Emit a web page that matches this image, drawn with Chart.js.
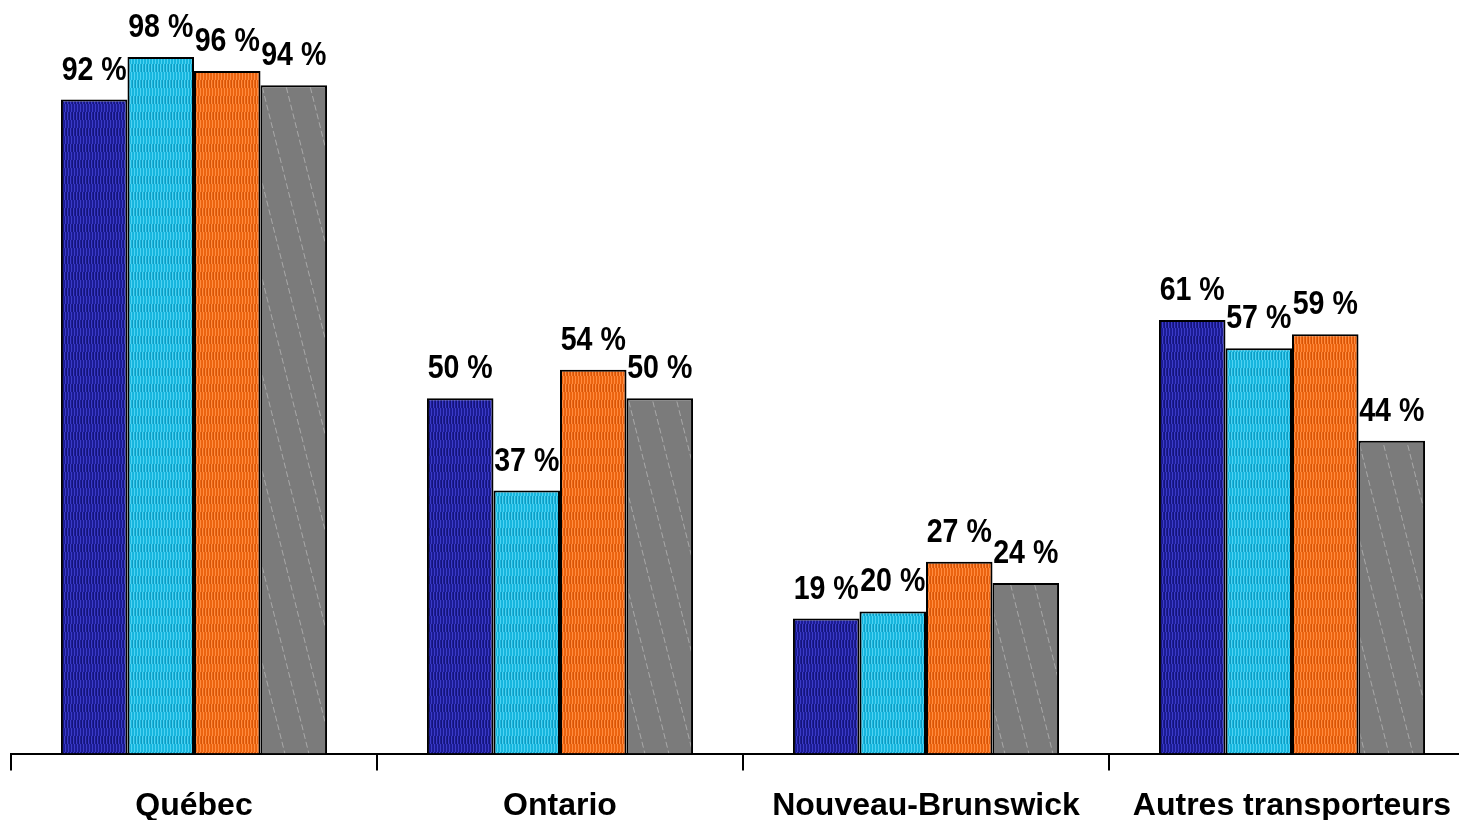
<!DOCTYPE html>
<html>
<head>
<meta charset="utf-8">
<script src="https://cdn.jsdelivr.net/npm/chart.js@4"></script>
<style>
html,body{margin:0;padding:0;background:#fff;overflow:hidden;}
#wrap{width:1475px;height:820px;}
</style>
</head>
<body>
<div id="wrap"><canvas id="c" width="1475" height="820"></canvas></div>
<script>
const categories = ['Québec', 'Ontario', 'Nouveau-Brunswick', 'Autres transporteurs'];
const series1 = [92, 50, 19, 61];
const series2 = [98, 37, 20, 57];
const series3 = [96, 54, 27, 59];
const series4 = [94, 50, 24, 44];

function stripePattern(base, light, dark) {
  const c = document.createElement('canvas');
  c.width = 6; c.height = 16;
  const g = c.getContext('2d');
  g.fillStyle = base; g.fillRect(0, 0, 6, 16);
  g.fillStyle = light;
  g.fillRect(1, 0, 1, 8); g.fillRect(4, 0, 1, 8);
  g.fillRect(2, 8, 1, 8); g.fillRect(5, 8, 1, 8);
  g.fillStyle = dark;
  g.fillRect(0, 0, 1, 8); g.fillRect(3, 0, 1, 8);
  return g.createPattern(c, 'repeat');
}
function grayPattern() {
  const c = document.createElement('canvas');
  c.width = 24; c.height = 96;
  const g = c.getContext('2d');
  g.fillStyle = '#7b7b7b'; g.fillRect(0, 0, 24, 96);
  g.strokeStyle = '#a9a9a9'; g.lineWidth = 1;
  g.setLineDash([6, 3]);
  for (let k = -1; k <= 1; k++) {
    g.beginPath(); g.moveTo(k * 24 + 0.5, 0); g.lineTo(k * 24 + 24.5, 96); g.stroke();
  }
  return g.createPattern(c, 'repeat');
}
const pBlue = stripePattern('#1c1c94', '#3b3bc8', '#141478');
const pCyan = stripePattern('#17b6de', '#4fd2f2', '#109ac0');
const pOrange = stripePattern('#ec6410', '#ff8c40', '#d55408');
const pGray = grayPattern();

const dataLabels = {
  id: 'dataLabels',
  afterDatasetsDraw(chart) {
    const ctx = chart.ctx;
    ctx.save();
    ctx.fillStyle = '#000';
    ctx.font = 'bold 34px "Liberation Sans", Arial, sans-serif';
    ctx.textAlign = 'center';
    ctx.textBaseline = 'alphabetic';
    chart.data.datasets.forEach((ds, i) => {
      const meta = chart.getDatasetMeta(i);
      meta.data.forEach((bar, j) => {
        ctx.save();
        ctx.translate(bar.x, bar.y - 20);
        ctx.scale(0.84, 1);
        ctx.fillText(ds.data[j] + ' %', 0, 0);
        ctx.restore();
      });
    });
    ctx.restore();
  }
};

new Chart(document.getElementById('c'), {
  type: 'bar',
  data: {
    labels: categories,
    datasets: [
      { data: series1, backgroundColor: pBlue },
      { data: series2, backgroundColor: pCyan },
      { data: series3, backgroundColor: pOrange },
      { data: series4, backgroundColor: pGray }
    ].map(d => Object.assign(d, { borderColor: '#000', borderWidth: 2, categoryPercentage: 0.727, barPercentage: 1.0 }))
  },
  options: {
    responsive: false,
    animation: false,
    events: [],
    layout: { padding: { left: 11, right: 0, top: 0, bottom: -21 } },
    plugins: { legend: { display: false }, tooltip: { enabled: false } },
    scales: {
      y: { display: false, min: 0, max: 106 },
      x: {
        grid: { offset: true, drawOnChartArea: false, drawTicks: true, tickLength: 17, color: '#000', lineWidth: 2 },
        border: { display: true, color: '#000', width: 2 },
        ticks: { color: '#000', padding: 16, font: { family: '"Liberation Sans", Arial, sans-serif', size: 32, weight: 'bold' }, maxRotation: 0, autoSkip: false }
      }
    }
  },
  plugins: [dataLabels]
});
</script>
</body>
</html>
